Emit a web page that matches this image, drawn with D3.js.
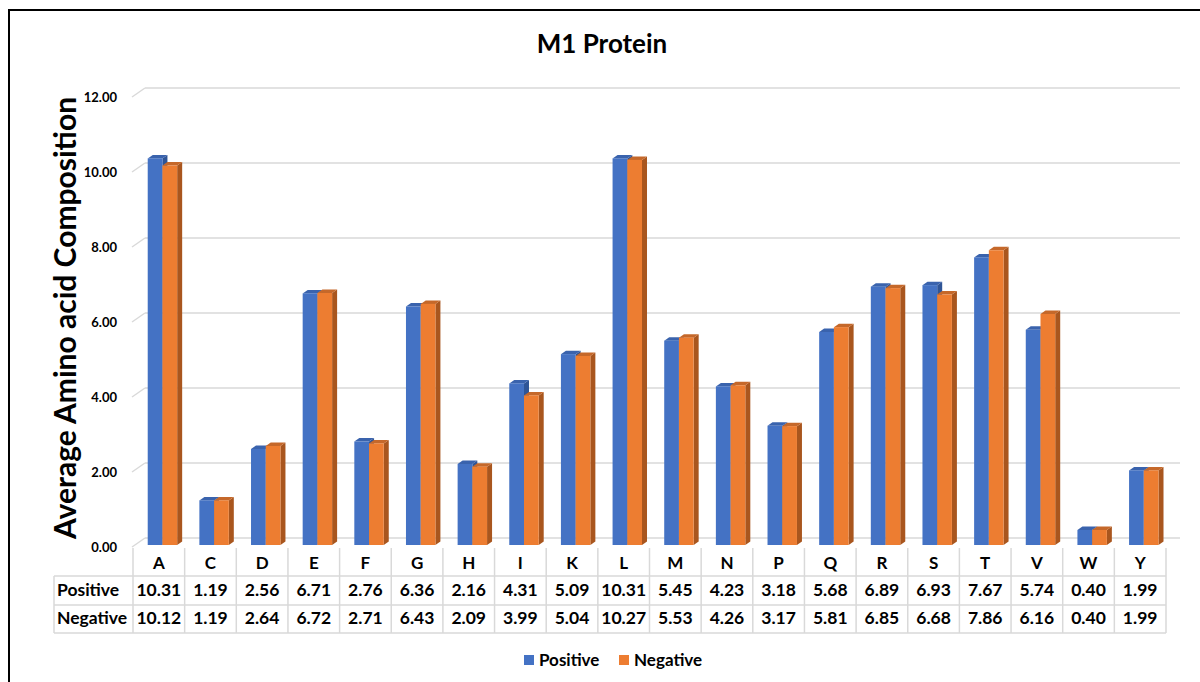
<!DOCTYPE html>
<html>
<head>
<meta charset="utf-8">
<script src="https://cdn.jsdelivr.net/npm/d3@7"></script>
<style>
  body { margin: 0; background: #fff; }
  text { font-family: Lato, "Open Sans", sans-serif; font-weight: bold; fill: #000; }
</style>
</head>
<body>
<div id="chart"></div>
<script>
// amino acids and the two series
var categories = ["A","C","D","E","F","G","H","I","K","L","M","N","P","Q","R","S","T","V","W","Y"];
var positive = [10.31,1.19,2.56,6.71,2.76,6.36,2.16,4.31,5.09,10.31,5.45,4.23,3.18,5.68,6.89,6.93,7.67,5.74,0.40,1.99];
var negative = [10.12,1.19,2.64,6.72,2.71,6.43,2.09,3.99,5.04,10.27,5.53,4.26,3.17,5.81,6.85,6.68,7.86,6.16,0.40,1.99];
var seriesNames = ["Positive","Negative"];
var yTicks = [0,2,4,6,8,10,12];

var colors = {
  Positive: {front: "#4472C4", side: "#2F5597", top: "#3A63AD"},
  Negative: {front: "#ED7D31", side: "#A9561E", top: "#C5682A"}
};

var width = 1200, height = 682;
var left = 133, right = 1166;
var depthY = 7;               // back wall offset of the 3d plot
var barDX = 5, barDY = 3.5;   // bar depth

var svg = d3.select("#chart").append("svg")
    .attr("width", width)
    .attr("height", height);

svg.append("rect").attr("width", width).attr("height", height).attr("fill", "#fff");

// frame
svg.append("rect")
    .attr("x", 9).attr("y", 10)
    .attr("width", 1220).attr("height", 700)
    .attr("fill", "none").attr("stroke", "#000").attr("stroke-width", 2);

// title
svg.append("text")
    .attr("x", 602).attr("y", 53)
    .attr("text-anchor", "middle")
    .style("font-size", "26px")
    .text("M1 Protein");

var x = d3.scaleBand().domain(categories).range([left, right]).padding(0);
var y = d3.scaleLinear().domain([0, 12]).range([545, 95]);  // front plane
var bw = x.bandwidth();

// gridlines on the back wall + diagonal stubs
var grid = svg.append("g");
yTicks.forEach(function(t){
    var yb = y(t) - depthY;
    grid.append("line")
        .attr("x1", left + 12).attr("x2", 1180)
        .attr("y1", yb).attr("y2", yb)
        .attr("stroke", "#d9d9d9").attr("stroke-width", 1.5);
    grid.append("line")
        .attr("x1", left - 1).attr("x2", left + 12)
        .attr("y1", yb + 9).attr("y2", yb)
        .attr("stroke", "#d9d9d9").attr("stroke-width", 1.5);
});

// y axis labels
svg.append("g").selectAll("text")
    .data(yTicks).enter().append("text")
    .attr("x", 117)
    .attr("y", function(d){ return y(d) + 7; })
    .attr("text-anchor", "end")
    .style("font-size", "13px")
    .text(function(d){ return d3.format(".2f")(d); });

// y title
svg.append("text")
    .attr("transform", "translate(76,318) rotate(-90)")
    .attr("text-anchor", "middle")
    .style("font-size", "30px")
    .text("Average Amino acid Composition");

// bars
var bars = svg.append("g");
var barW = bw * 0.285;
categories.forEach(function(c, i){
    [positive[i], negative[i]].forEach(function(v, s){
        var col = colors[seriesNames[s]];
        var x0 = x(c) + barW * (1 + s);
        var y0 = y(0), y1 = y(v);
        // side
        bars.append("path")
            .attr("d", "M" + (x0 + barW) + "," + y0 + "L" + (x0 + barW + barDX) + "," + (y0 - barDY) +
                 "L" + (x0 + barW + barDX) + "," + (y1 - barDY) + "L" + (x0 + barW) + "," + y1 + "Z")
            .attr("fill", col.side);
        // top
        bars.append("path")
            .attr("d", "M" + x0 + "," + y1 + "L" + (x0 + barDX) + "," + (y1 - barDY) +
                 "L" + (x0 + barW + barDX) + "," + (y1 - barDY) + "L" + (x0 + barW) + "," + y1 + "Z")
            .attr("fill", col.top);
        // front
        bars.append("rect")
            .attr("x", x0).attr("y", y1)
            .attr("width", barW).attr("height", y0 - y1)
            .attr("fill", col.front);
    });
});

// data table
var table = svg.append("g");
var rowTop = 548, rowLines = [576, 605, 633], tableLeft = 54;
rowLines.forEach(function(ly){
    table.append("line")
        .attr("x1", tableLeft).attr("x2", right)
        .attr("y1", ly).attr("y2", ly)
        .attr("stroke", "#d9d9d9").attr("stroke-width", 1.5);
});
table.append("line")
    .attr("x1", tableLeft).attr("x2", tableLeft)
    .attr("y1", 576).attr("y2", 633)
    .attr("stroke", "#d9d9d9").attr("stroke-width", 1.5);
for (var i = 0; i <= categories.length; i++) {
    var lx = left + i * bw;
    table.append("line")
        .attr("x1", lx).attr("x2", lx)
        .attr("y1", rowTop).attr("y2", 633)
        .attr("stroke", "#d9d9d9").attr("stroke-width", 1.5);
}

table.selectAll(".cat")
    .data(categories).enter().append("text")
    .attr("x", function(d){ return x(d) + bw / 2; })
    .attr("y", 569)
    .attr("text-anchor", "middle")
    .style("font-size", "17px")
    .text(function(d){ return d; });

[positive, negative].forEach(function(vals, s){
    var ty = s == 0 ? 596 : 624;
    table.append("text")
        .attr("x", 57).attr("y", ty)
        .style("font-size", "17.5px")
        .text(seriesNames[s]);
    table.append("g").selectAll("text")
        .data(vals).enter().append("text")
        .attr("x", function(d, i){ return x(categories[i]) + bw / 2; })
        .attr("y", ty)
        .attr("text-anchor", "middle")
        .style("font-size", "17.5px")
        .text(function(d){ return d3.format(".2f")(d); });
});

// legend
var legend = svg.append("g");
[[524, "Positive"], [619, "Negative"]].forEach(function(l){
    legend.append("rect")
        .attr("x", l[0]).attr("y", 655)
        .attr("width", 10).attr("height", 10)
        .attr("fill", colors[l[1]].front);
    legend.append("text")
        .attr("x", l[0] + 15).attr("y", 666)
        .style("font-size", "17px")
        .text(l[1]);
});
</script>
</body>
</html>
